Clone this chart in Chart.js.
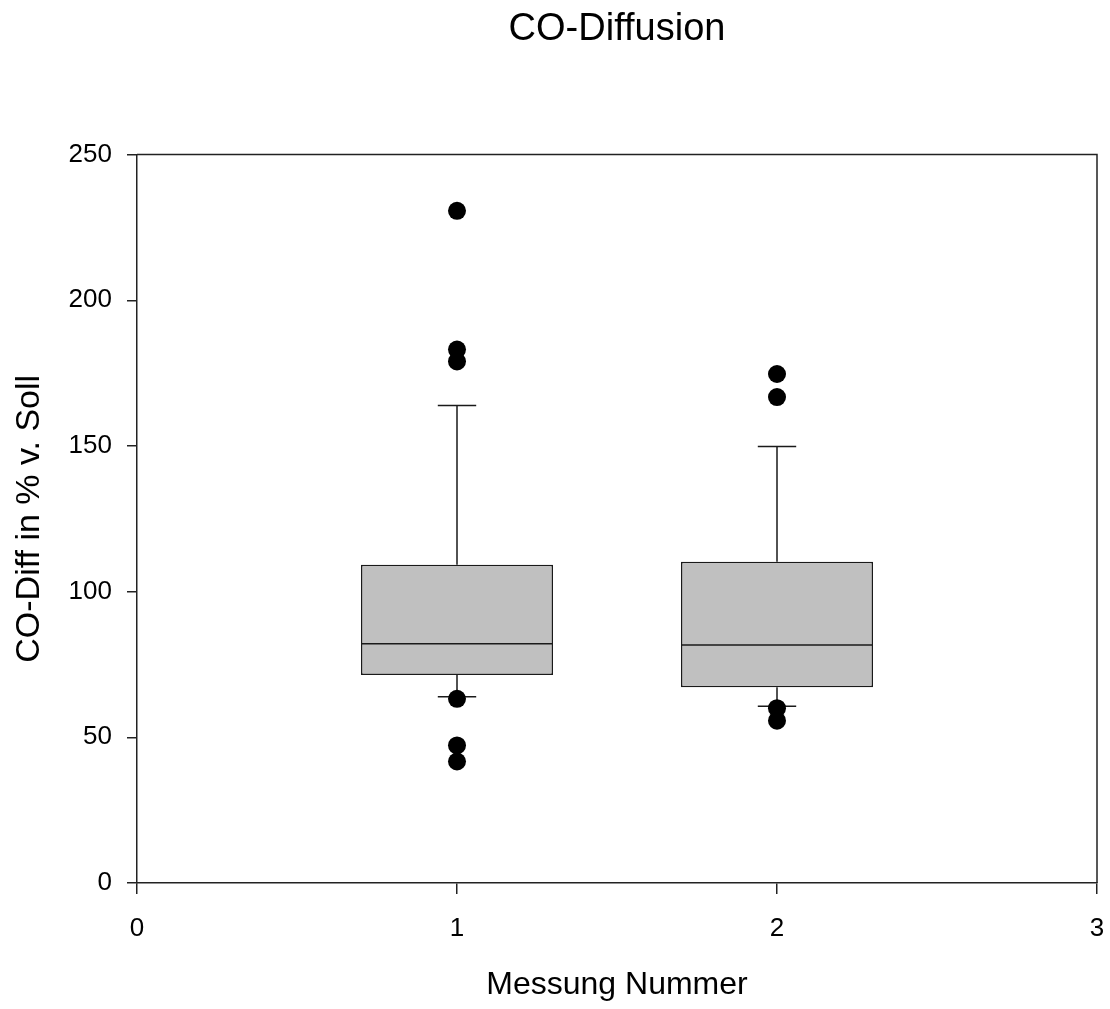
<!DOCTYPE html>
<html>
<head>
<meta charset="utf-8">
<title>CO-Diffusion</title>
<script src="https://cdn.jsdelivr.net/npm/chart.js@4/dist/chart.umd.min.js"></script>
<style>
  html, body { margin: 0; padding: 0; background: #fff; }
  #wrap { width: 1110px; height: 1009px; }
</style>
</head>
<body>
<div id="wrap"><canvas id="box"></canvas></div>
<script>
// box plot data
const groups = [1, 2];
const lowerWhisker = [63.9, 60.7];
const q1 = [71.4, 67.2];
const median = [82.1, 81.7];
const q3 = [109.2, 110.3];
const upperWhisker = [163.9, 149.8];
const outliers = [
    [230.7, 183.1, 179.0, 63.2, 47.2, 41.7],
    [174.7, 166.8, 60.0, 55.7]
];
const xTicks = [0, 1, 2, 3];
const yTicks = [0, 50, 100, 150, 200, 250];

const FONT = "'Liberation Sans', Arial, sans-serif";
Chart.defaults.font.family = FONT;
Chart.defaults.color = '#000';

// whiskers, caps and median lines, placed through the chart scales
const boxParts = {
    id: 'boxParts',
    beforeDatasetsDraw(chart) {
        const {ctx, scales: {x, y}} = chart;
        ctx.save();
        ctx.strokeStyle = '#1a1a1a';
        ctx.lineWidth = 1.5;
        groups.forEach((g, i) => {
            const cx = x.getPixelForValue(g);
            const half = x.getPixelForValue(g + 0.06) - cx;
            ctx.beginPath();
            ctx.moveTo(cx, y.getPixelForValue(q3[i]));
            ctx.lineTo(cx, y.getPixelForValue(upperWhisker[i]));
            ctx.moveTo(cx, y.getPixelForValue(q1[i]));
            ctx.lineTo(cx, y.getPixelForValue(lowerWhisker[i]));
            [upperWhisker[i], lowerWhisker[i]].forEach(v => {
                const py = y.getPixelForValue(v);
                ctx.moveTo(cx - half, py);
                ctx.lineTo(cx + half, py);
            });
            ctx.stroke();
        });
        ctx.restore();
    },
    afterDatasetsDraw(chart) {
        const {ctx, scales: {x, y}} = chart;
        ctx.save();
        ctx.strokeStyle = '#1a1a1a';
        ctx.lineWidth = 1.5;
        groups.forEach((g, i) => {
            const half = x.getPixelForValue(g + 0.3) - x.getPixelForValue(g);
            const cx = x.getPixelForValue(g);
            const py = y.getPixelForValue(median[i]);
            ctx.beginPath();
            ctx.moveTo(cx - half, py);
            ctx.lineTo(cx + half, py);
            ctx.stroke();
        });
        // top and right frame
        const a = chart.chartArea;
        ctx.strokeStyle = '#222';
        ctx.beginPath();
        ctx.moveTo(a.left, a.top);
        ctx.lineTo(a.right, a.top);
        ctx.lineTo(a.right, a.bottom);
        ctx.stroke();
        ctx.restore();
    }
};

const outlierPoints = [];
outliers.forEach((list, i) => list.forEach(v => outlierPoints.push({x: groups[i], y: v})));

new Chart(document.getElementById('box'), {
    type: 'bar',
    data: {
        datasets: [{
            type: 'bar',
            data: groups.map((g, i) => ({x: g, y: [q1[i], q3[i]]})),
            backgroundColor: '#c0c0c0',
            borderColor: '#1a1a1a',
            borderWidth: 1.5,
            borderSkipped: false,
            barPercentage: 0.6,
            categoryPercentage: 1,
            order: 2
        }, {
            type: 'scatter',
            data: outlierPoints,
            backgroundColor: '#000',
            borderWidth: 0,
            pointRadius: 9,
            order: 1
        }]
    },
    options: {
        responsive: true,
        maintainAspectRatio: false,
        animation: false,
        layout: { padding: { top: 0, right: 13, bottom: 0, left: 0 } },
        plugins: {
            legend: { display: false },
            tooltip: { enabled: false },
            title: {
                display: true,
                fullSize: false,
                text: 'CO-Diffusion',
                font: { size: 38, weight: 'normal' },
                color: '#000',
                padding: { top: 7, bottom: 102 }
            }
        },
        scales: {
            x: {
                type: 'linear',
                min: 0,
                max: 3,
                offset: false,
                afterBuildTicks: s => { s.ticks = xTicks.map(v => ({value: v})); },
                afterFit: s => { s.height = 126; s.paddingLeft = 0; s.paddingRight = 0; },
                grid: { offset: false, drawOnChartArea: false, drawTicks: true, tickLength: 11, color: '#222', lineWidth: 1.5 },
                border: { display: true, color: '#222', width: 1.5 },
                ticks: { font: { size: 26 }, padding: 19, maxRotation: 0 },
                title: {
                    display: true,
                    text: 'Messung Nummer',
                    font: { size: 32 },
                    padding: { top: 0, bottom: 5 }
                }
            },
            y: {
                type: 'linear',
                min: 0,
                max: 250,
                afterBuildTicks: s => { s.ticks = yTicks.map(v => ({value: v})); },
                afterFit: s => { s.width = 137; },
                grid: { drawOnChartArea: false, drawTicks: true, tickLength: 10, color: '#222', lineWidth: 1.5 },
                border: { display: true, color: '#222', width: 1.5 },
                ticks: { font: { size: 26 }, padding: 15 },
                title: {
                    display: true,
                    text: 'CO-Diff in % v. Soll',
                    font: { size: 34 },
                    padding: { top: 9, bottom: 0 }
                }
            }
        }
    },
    plugins: [boxParts]
});
</script>
</body>
</html>
